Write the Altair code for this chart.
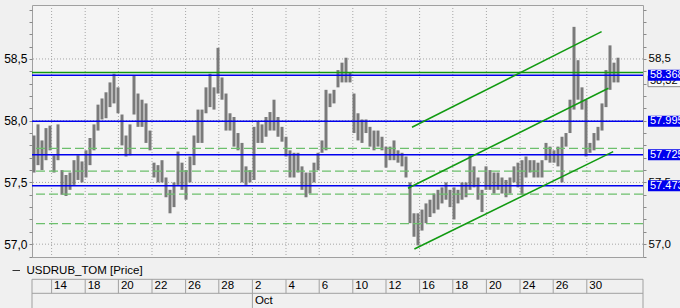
import altair as alt
import pandas as pd

# ---- price bars (high / low per bar) ----
highs = [57.88, 57.97, 57.84, 57.94, 57.96, 57.72, 57.97, 57.60, 57.56, 57.58,
         57.68, 57.72, 57.67, 57.76, 57.86, 57.97, 58.13, 58.18, 58.23, 58.31,
         58.38, 58.27, 58.05, 57.88, 57.97, 58.37, 58.22, 58.17, 58.14, 57.92,
         57.66, 57.64, 57.68, 57.54, 57.44, 57.50, 57.75, 57.66, 57.60, 57.71,
         57.88, 58.09, 58.09, 58.27, 58.38, 58.27, 58.59, 58.35, 58.22, 58.06,
         58.03, 57.90, 57.82, 57.63, 57.60, 57.95, 57.99, 57.97, 58.03, 58.07,
         58.17, 58.03, 57.95, 57.87, 57.76, 57.74, 57.74, 57.63, 57.58, 57.58,
         57.66, 57.74, 57.84, 58.25, 58.22, 58.25, 58.41, 58.47, 58.51, 58.39,
         58.22, 58.06, 58.01, 58.01, 57.95, 57.92, 57.92, 57.87, 57.79, 57.79,
         57.84, 57.76, 57.74, 57.71, 57.50, 57.25, 57.25, 57.28, 57.33, 57.36,
         57.41, 57.44, 57.46, 57.50, 57.44, 57.46, 57.44, 57.50, 57.50, 57.72,
         57.63, 57.54, 57.44, 57.63, 57.60, 57.58, 57.58, 57.54, 57.52, 57.54,
         57.63, 57.66, 57.68, 57.71, 57.68, 57.68, 57.66, 57.68, 57.82, 57.79,
         57.76, 57.79, 57.87, 57.90, 58.17, 58.76, 58.49, 58.27, 58.17, 57.82,
         57.90, 57.95, 58.14, 58.41, 58.61, 58.47, 58.51]
lows = [57.58, 57.64, 57.60, 57.68, 57.76, 57.58, 57.68, 57.40, 57.39, 57.44,
        57.48, 57.52, 57.50, 57.54, 57.64, 57.76, 57.92, 58.01, 58.02, 58.11,
        58.14, 58.06, 57.80, 57.71, 57.72, 58.05, 57.95, 57.95, 57.82, 57.76,
        57.54, 57.50, 57.50, 57.38, 57.25, 57.30, 57.48, 57.44, 57.36, 57.50,
        57.64, 57.82, 57.82, 58.06, 58.11, 58.09, 58.22, 58.17, 57.92, 57.92,
        57.79, 57.76, 57.50, 57.48, 57.50, 57.52, 57.82, 57.82, 57.87, 57.92,
        57.92, 57.87, 57.83, 57.71, 57.54, 57.54, 57.58, 57.44, 57.38, 57.41,
        57.50, 57.60, 57.74, 57.76, 58.11, 58.14, 58.27, 58.31, 58.31, 58.31,
        57.90, 57.84, 57.82, 57.90, 57.79, 57.76, 57.79, 57.76, 57.62, 57.68,
        57.68, 57.66, 57.63, 57.54, 57.17, 57.06, 56.99, 57.11, 57.17, 57.22,
        57.25, 57.28, 57.33, 57.36, 57.30, 57.20, 57.33, 57.36, 57.38, 57.44,
        57.46, 57.36, 57.26, 57.44, 57.44, 57.41, 57.44, 57.41, 57.38, 57.41,
        57.50, 57.46, 57.40, 57.54, 57.58, 57.54, 57.54, 57.54, 57.68, 57.66,
        57.66, 57.63, 57.50, 57.79, 57.90, 58.09, 58.17, 58.09, 57.71, 57.74,
        57.76, 57.84, 57.92, 58.11, 58.25, 58.31, 58.31]

# ---- date axis (bar index where each label sits) ----
tick_pos = [4.4, 12.8, 21.1, 29.5, 37.9, 46.2, 54.6, 63.0, 71.3, 79.7,
            88.0, 96.4, 104.7, 113.1, 121.5, 129.8, 138.2]
tick_labels = ["14", "18", "20", "22", "26", "28", "2", "4", "6", "10",
               "12", "16", "18", "20", "24", "26", "30"]
month_pos = [54.6]
month_labels = ["Oct"]

# ---- levels ----
blue_levels = [58.368, 57.995, 57.725, 57.473]
blue_labels = ["58.368", "57.995", "57.725", "57.473"]
green_solid = [58.39]
green_dashed = [57.776, 57.592, 57.406, 57.167]
grid_levels = [57.0, 57.5, 58.0, 58.5]
y_ticks = [56.9, 57.0, 57.1, 57.2, 57.3, 57.4, 57.5, 57.6, 57.7, 57.8, 57.9,
           58.0, 58.1, 58.2, 58.3, 58.4, 58.5, 58.6, 58.7, 58.8, 58.9]

# ---- trend channel ----
channel_x0 = [94.5, 93.5, 95.1]
channel_y0 = [57.947, 57.453, 56.961]
channel_x1 = [141.9, 143.6, 144.8]
channel_y1 = [58.721, 58.263, 57.749]

last_price = [58.32]
last_label = ["58,32"]
series_name = "USDRUB_TOM [Price]"

FONT = "Liberation Sans"
BLUE = "#0000ee"
GREEN = "#119a11"
LGREEN = "#6cbf6c"
GRID = "#a6a6a6"
FRAME = "#a0a0a0"

bars = pd.DataFrame({"i": list(range(len(highs))), "high": highs, "low": lows})
ticks_df = pd.DataFrame({"pos": tick_pos, "label": tick_labels})
month_df = pd.DataFrame({"pos": month_pos, "label": month_labels})
blue_df = pd.DataFrame({"level": blue_levels, "label": blue_labels})
gs_df = pd.DataFrame({"level": green_solid})
gd_df = pd.DataFrame({"level": green_dashed})
grid_df = pd.DataFrame({"level": grid_levels})
chan_df = pd.DataFrame({"x0": channel_x0, "y0": channel_y0, "x1": channel_x1, "y1": channel_y1})
last_df = pd.DataFrame({"level": last_price, "label": last_label})
one = pd.DataFrame({"name": [series_name]})

xs = alt.Scale(domain=[-0.5, 152.25], nice=False, zero=False)
ys = alt.Scale(domain=[56.896, 58.937], nice=False, zero=False)

label_expr = ("abs(datum.value*2 - round(datum.value*2)) < 0.01 ? "
              "replace(format(datum.value, '.1f'), '.', ',') : ''")


def yaxis(orient, size):
    return alt.Axis(orient=orient, values=y_ticks, labelExpr=label_expr, tickSize=3,
                    tickColor="#8a8a8a", domain=False, grid=False, labelFontSize=size,
                    labelColor="#000000", labelPadding=2, labelFont=FONT, title="",
                    labelOverlap=False, labelBound=False)


def Y(field, axis=None):
    if axis is None:
        return alt.Y(field, scale=ys, axis=None)
    return alt.Y(field, scale=ys, axis=axis)


X_tick = alt.X("pos:Q", scale=xs, axis=None)

grid_v = alt.Chart(ticks_df).mark_rule(color=GRID, strokeDash=[1, 2], strokeWidth=1).encode(x=X_tick)
grid_h = alt.Chart(grid_df).mark_rule(color=GRID, strokeDash=[1, 2], strokeWidth=1).encode(y=Y("level:Q"))

price = alt.Chart(bars).mark_rule(color="#7a7a7a", strokeWidth=3.0).encode(
    x=alt.X("i:Q", scale=xs, axis=None),
    y=Y("low:Q", yaxis("left", 12)),
    y2="high:Q",
)

gd = alt.Chart(gd_df).mark_rule(color=LGREEN, strokeDash=[9, 4], strokeWidth=1.3).encode(y=Y("level:Q"))
gs = alt.Chart(gs_df).mark_rule(color=GREEN, strokeWidth=1.5).encode(y=Y("level:Q"))
bl = alt.Chart(blue_df).mark_rule(color=BLUE, strokeWidth=1.5).encode(y=Y("level:Q"))

chan = alt.Chart(chan_df).mark_rule(color=GREEN, strokeWidth=1.5).encode(
    x=alt.X("x0:Q", scale=xs, axis=None), x2="x1:Q",
    y=Y("y0:Q"), y2="y1:Q",
)

right_axis = alt.Chart(grid_df).mark_rule(opacity=0).encode(y=Y("level:Q", yaxis("right", 11.5)))

last_box = alt.Chart(last_df).mark_tick(orient="horizontal", thickness=11, size=70, filled=True,
                                        fill="#fafafa", stroke="#8a8a8a", strokeWidth=1,
                                        opacity=1).encode(x=alt.value(651), y=Y("level:Q"))
last_text = alt.Chart(last_df).mark_text(align="left", baseline="middle", fontSize=11, font=FONT,
                                         color="#000000").encode(
    x=alt.value(618), y=Y("level:Q"), text="label:N")

blue_box = alt.Chart(blue_df).mark_tick(orient="horizontal", thickness=11, size=70, color=BLUE,
                                        opacity=1).encode(x=alt.value(651), y=Y("level:Q"))
blue_text = alt.Chart(blue_df).mark_text(align="left", baseline="middle", fontSize=11, font=FONT,
                                         color="#ffffff").encode(
    x=alt.value(618), y=Y("level:Q"), text="label:N")

# ---- bottom date table ----
def hline(yv):
    return alt.Chart(one).mark_rule(color=FRAME, strokeWidth=1).encode(
        x=alt.value(0), x2=alt.value(611), y=alt.value(yv))


table_top = hline(274.3)
table_mid = hline(288.3)
table_left = alt.Chart(one).mark_rule(color=FRAME, strokeWidth=1).encode(
    x=alt.value(0), y=alt.value(274.3), y2=alt.value(303))
table_right = alt.Chart(one).mark_rule(color=FRAME, strokeWidth=1).encode(
    x=alt.value(611), y=alt.value(274.3), y2=alt.value(303))
seps = alt.Chart(ticks_df).mark_rule(color=FRAME, strokeWidth=1).encode(
    x=X_tick, y=alt.value(274.3), y2=alt.value(288.3))
month_sep = alt.Chart(month_df).mark_rule(color=FRAME, strokeWidth=1).encode(
    x=X_tick, y=alt.value(288.3), y2=alt.value(303))
tick_text = alt.Chart(ticks_df).mark_text(align="left", baseline="middle", dx=2.5, fontSize=11.5,
                                          font=FONT, color="#000000").encode(
    x=X_tick, y=alt.value(281), text="label:N")
month_text = alt.Chart(month_df).mark_text(align="left", baseline="middle", dx=2.5, fontSize=11.5,
                                           font=FONT, color="#000000").encode(
    x=X_tick, y=alt.value(295.5), text="label:N")

legend_dash = alt.Chart(one).mark_rule(color="#333333", strokeWidth=1).encode(
    x=alt.value(-19.5), x2=alt.value(-12), y=alt.value(265.5))
legend_text = alt.Chart(one).mark_text(align="left", baseline="middle", fontSize=11.5, font=FONT,
                                       color="#000000").encode(
    x=alt.value(-5.5), y=alt.value(265.5), text="name:N")

chart = alt.layer(
    grid_v, grid_h, price, gd, gs, bl, chan, right_axis,
    last_box, last_text, blue_box, blue_text,
    table_top, table_mid, table_left, table_right, seps, month_sep, tick_text, month_text,
    legend_dash, legend_text,
).resolve_scale(y="independent").properties(
    width=611, height=252,
    padding={"left": 32, "top": 5, "right": 37, "bottom": 51},
    autosize=alt.AutoSizeParams(type="none"),
    background="#f0f0f0",
).configure_view(fill="#f4f4f4", stroke=FRAME, strokeWidth=1)

chart.save("out.html", embed_options={"renderer": "svg", "actions": False})
